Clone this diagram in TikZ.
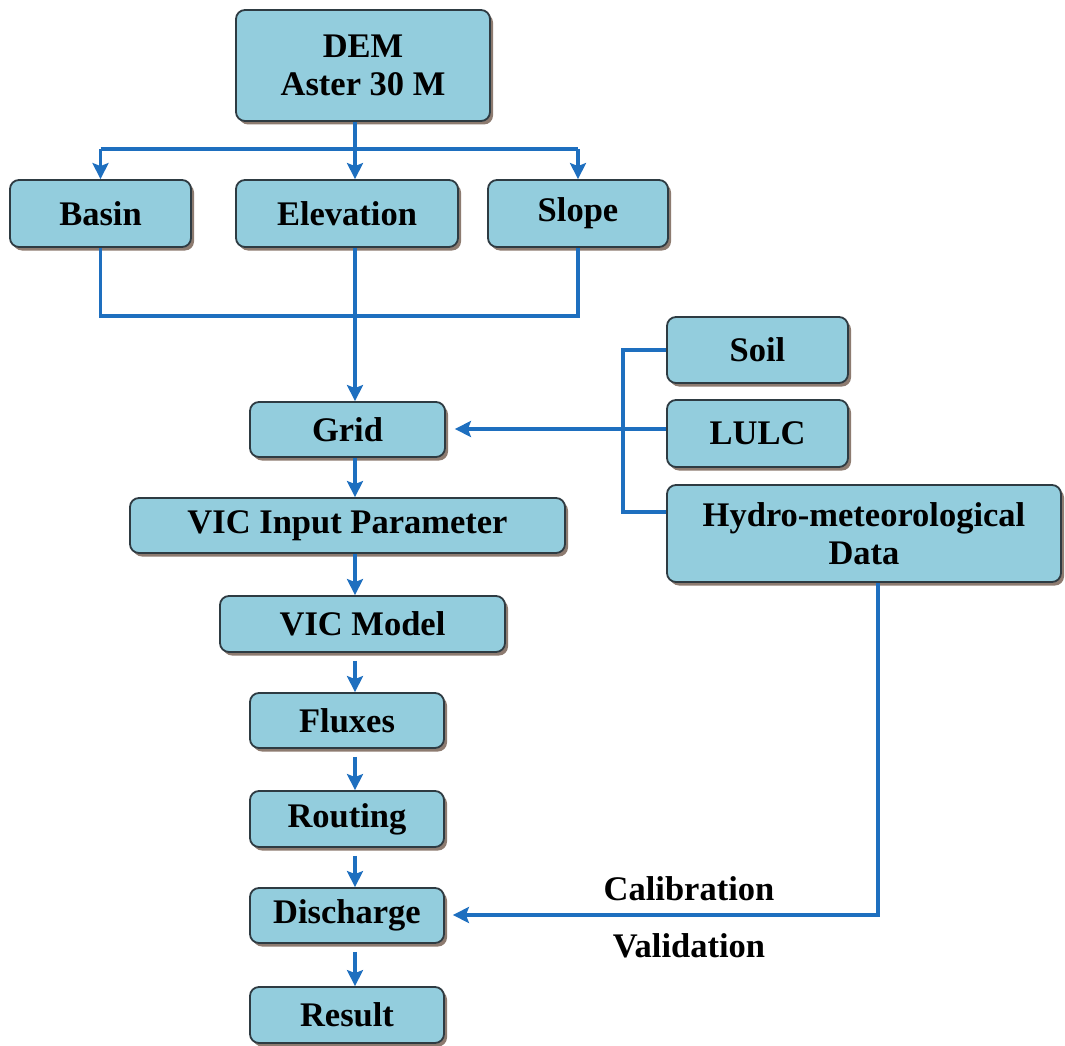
\documentclass[tikz,border=0pt]{standalone}
\usepackage{fontspec}
\setmainfont{Liberation Serif}
\usetikzlibrary{arrows.meta,shadows}
\definecolor{boxfill}{HTML}{93CDDD}
\definecolor{boxline}{HTML}{2E3B42}
\definecolor{shadowcol}{HTML}{7A6458}
\definecolor{linkcol}{HTML}{1E6FBF}
\begin{document}
\begin{tikzpicture}[x=1pt,y=-1pt,
  stepbox/.style={draw=boxline, line width=1.8pt, fill=boxfill, rounded corners=9pt,
    inner sep=0pt, align=center, font=\fontsize{34.5}{38}\selectfont\bfseries,
    drop shadow={shadow xshift=3pt, shadow yshift=-3.5pt, fill=shadowcol, opacity=0.85}},
  link/.style={draw=linkcol, line width=3.6pt},
  arr/.style={link, -{Stealth[length=16pt,width=16pt,inset=3pt]}},
  lbl/.style={font=\fontsize{34.5}{38}\selectfont\bfseries, inner sep=0pt}]
\useasboundingbox (0,0) rectangle (1065,1046);
\fill[white] (0,0) rectangle (1065,1046);
% nodes
\node[stepbox, minimum width=254pt, minimum height=111pt] (dem) at (363,65.5) {DEM\\Aster 30 M};
\node[stepbox, minimum width=181pt, minimum height=67pt] (basin) at (100.5,213.5) {Basin};
\node[stepbox, minimum width=222pt, minimum height=67pt] (elev) at (347,213.5) {Elevation};
\node[stepbox, minimum width=180pt, minimum height=67pt] (slope) at (578,213.5) {Slope};
\node[stepbox, minimum width=195pt, minimum height=55pt] (grid) at (347.5,429.5) {Grid};
\node[stepbox, minimum width=435pt, minimum height=55pt] (vicin) at (347.5,525.5) {VIC Input Parameter};
\node[stepbox, minimum width=285pt, minimum height=56pt] (vicm) at (362.5,624) {VIC Model};
\node[stepbox, minimum width=194pt, minimum height=55pt] (flux) at (347,720.5) {Fluxes};
\node[stepbox, minimum width=194pt, minimum height=56pt] (rout) at (347,819) {Routing};
\node[stepbox, minimum width=194pt, minimum height=55pt] (disc) at (347,915.5) {Discharge};
\node[stepbox, minimum width=194pt, minimum height=56pt] (res) at (347,1015) {Result};
\node[stepbox, minimum width=181pt, minimum height=66pt] (soil) at (757.5,350) {Soil};
\node[stepbox, minimum width=181pt, minimum height=67pt] (lulc) at (757.5,433.5) {LULC};
\node[stepbox, minimum width=394pt, minimum height=97pt] (hydro) at (864,533.5) {Hydro-meteorological\\Data};
\node[lbl] (cal) at (689,889) {Calibration};
\node[lbl] (val) at (689,946) {Validation};
% helper coordinates
\coordinate (cx) at (355,0);
\coordinate (top) at (0,149);
\coordinate (bot) at (0,316);
\coordinate (bus) at (623,0);
\coordinate (hy) at (0,512);
\coordinate (lv) at (0,429);
\coordinate (hx) at (878,0);
\coordinate (dv) at (0,915);
% DEM split
\draw[arr] (cx |- dem.south) -- (cx |- elev.north);
\draw[link] (basin.north |- top) -- (slope.north |- top);
\draw[arr] (basin.north |- top) -- (basin.north);
\draw[arr] (slope.north |- top) -- (slope.north);
% merge
\draw[link] (basin.south) -- (basin.south |- bot) -- (slope.south |- bot) -- (slope.south);
\draw[arr] (cx |- elev.south) -- (cx |- grid.north);
% main chain
\draw[arr] (cx |- grid.south) -- (cx |- vicin.north);
\draw[arr] (cx |- vicin.south) -- (cx |- vicm.north);
\draw[arr, shorten <=8pt] (cx |- vicm.south) -- (cx |- flux.north);
\draw[arr, shorten <=8pt] (cx |- flux.south) -- (cx |- rout.north);
\draw[arr, shorten <=8pt] (cx |- rout.south) -- (cx |- disc.north);
\draw[arr, shorten <=8pt] (cx |- disc.south) -- (cx |- res.north);
% right inputs
\draw[link] (soil.west) -- (bus |- soil.west) -- (bus |- hy) -- (hydro.west |- hy);
\draw[arr, shorten >=9pt] (lulc.west |- lv) -- (grid.east |- lv);
% calibration
\draw[arr, shorten >=8pt] (hx |- hydro.south) -- (hx |- dv) -- (disc.east |- dv);
\end{tikzpicture}
\end{document}
